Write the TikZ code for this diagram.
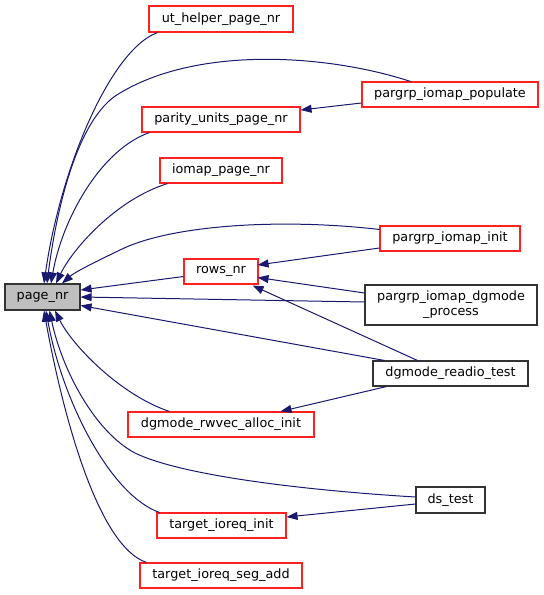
\documentclass[tikz,border=0pt]{standalone}
\usepackage{fontspec}
\setmainfont{DejaVu Sans}
\usetikzlibrary{arrows.meta,calc}
\definecolor{edgeblue}{HTML}{191970}
\definecolor{boxred}{HTML}{FF2020}
\tikzset{
  fn/.style={draw=boxred, line width=1.1bp, fill=white, inner sep=0pt, align=center,
    font=\fontsize{12.8bp}{15bp}\selectfont},
  fnblack/.style={fn, draw=black!80},
  fnroot/.style={fn, draw=black!80, fill=black!25},
  call/.style={draw=edgeblue, line width=1bp, -{Triangle[length=11bp,width=8bp]}},
}
\begin{document}
\begin{tikzpicture}[x=1bp,y=-1bp]
\useasboundingbox (0,0) rectangle (544,595);
% nodes
\node[fnroot, minimum width=75bp, minimum height=26bp] (page) at (42.5,297) {page\_nr};
\node[fn, minimum width=144bp, minimum height=26bp] (ut) at (221,19) {ut\_helper\_page\_nr};
\node[fn, minimum width=176bp, minimum height=25bp] (pop) at (450,94.5) {pargrp\_iomap\_populate};
\node[fn, minimum width=158bp, minimum height=25bp] (par) at (221,119.5) {parity\_units\_page\_nr};
\node[fn, minimum width=122bp, minimum height=25bp] (iom) at (221,170.5) {iomap\_page\_nr};
\node[fn, minimum width=140bp, minimum height=25bp] (init) at (450,238.5) {pargrp\_iomap\_init};
\node[fn, minimum width=74bp, minimum height=25bp] (rows) at (221,271.5) {rows\_nr};
\node[fnblack, minimum width=172bp, minimum height=40bp] (dgp) at (451,305) {pargrp\_iomap\_dgmode\\\_process};
\node[fnblack, minimum width=155bp, minimum height=25bp] (rdt) at (450.5,373.5) {dgmode\_readio\_test};
\node[fn, minimum width=186bp, minimum height=25bp] (rw) at (221,424.5) {dgmode\_rwvec\_alloc\_init};
\node[fnblack, minimum width=69bp, minimum height=26bp] (ds) at (450.5,500) {ds\_test};
\node[fn, minimum width=129bp, minimum height=25bp] (ti) at (221.5,525.5) {target\_ioreq\_init};
\node[fn, minimum width=162bp, minimum height=25bp] (tsa) at (221,575.5) {target\_ioreq\_seg\_add};

% curved edges into page_nr (top)
\draw[call] ($(ut.south west)+(9,0)$) .. controls (110,50) and (60,170) .. ($(page.north)+(1.5,0)$);
\draw[call] ($(pop.north west)+(49,0)$) .. controls (330,55) and (200,45) .. (120,93)
   .. controls (75,118) and (55,220) .. ($(page.north)+(4.5,0)$);
\draw[call] ($(par.south west)+(8,0)$) .. controls (100,150) and (62,220) .. ($(page.north)+(8.5,0)$);
\draw[call] ($(iom.south west)+(8,0)$) .. controls (115,200) and (72,250) .. ($(page.north)+(13.5,0)$);
\draw[call] ($(init.north west)+(0,4)$) .. controls (280,218) and (170,225) .. (120,250)
   .. controls (95,262) and (75,272) .. ($(page.north)+(19.5,0)$);

% curved edges into page_nr (bottom)
\draw[call] ($(tsa.north west)+(7,0)$) .. controls (95,545) and (60,400) .. ($(page.south)+(1.5,0)$);
\draw[call] ($(ti.north west)+(3,0)$) .. controls (110,495) and (62,400) .. ($(page.south)+(3.5,0)$);
\draw[call] ($(ds.west)+(0,-3)$) .. controls (300,490) and (180,475) .. (135,453)
   .. controls (95,432) and (62,370) .. ($(page.south)+(7,0)$);
\draw[call] ($(rw.north west)+(42,0)$) .. controls (120,395) and (72,345) .. ($(page.south)+(12.5,0)$);

% straight edges
\draw[call] ($(pop.west)+(0,8.5)$) -- ($(par.east)+(0,-9.5)$);
\draw[call] ($(init.west)+(0,9.5)$) -- ($(rows.east)+(-1,-6.5)$);
\draw[call] ($(dgp.west)+(0,-12)$) -- ($(rows.east)+(-1,6)$);
\draw[call] ($(dgp.west)+(0,-3)$) -- ($(page.east)+(0,0)$);
\draw[call] ($(rdt.north west)+(45,0)$) -- ($(rows.south east)+(-6,1)$);
\draw[call] ($(rdt.north west)+(12,0)$) -- ($(page.east)+(0,8.5)$);
\draw[call] ($(rows.west)+(0,5)$) -- ($(page.east)+(0,-7)$);
\draw[call] ($(rdt.south west)+(14,0)$) -- ($(rw.north east)+(-34,0)$);
\draw[call] ($(ds.west)+(0,4)$) -- ($(ti.east)+(0,-8.5)$);
\end{tikzpicture}
\end{document}
